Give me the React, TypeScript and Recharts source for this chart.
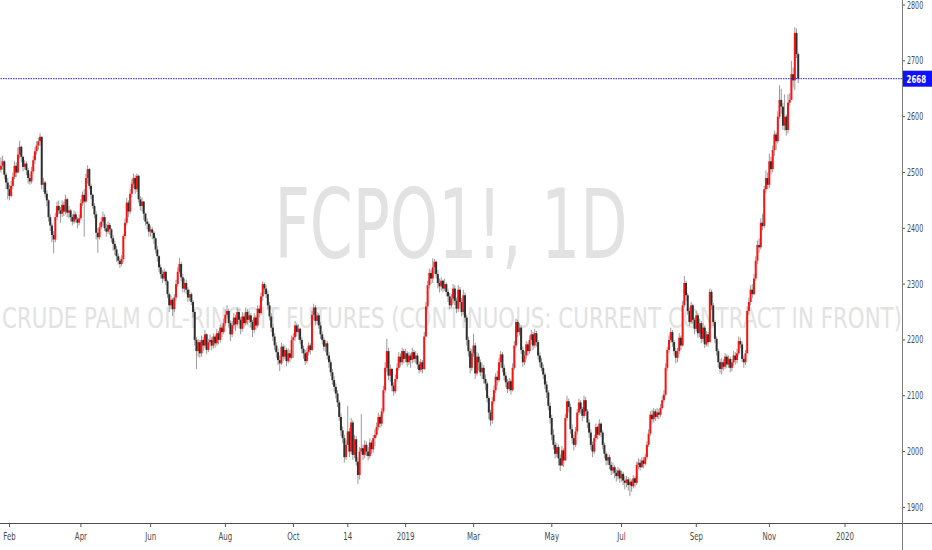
import { ComposedChart, Bar, XAxis, YAxis, ReferenceLine } from 'recharts';

// each candle: [close, high, low]; open is the previous close
type CHL = [number, number, number];

const firstOpen = 2505;

const jan18: CHL[] = [[2512,2527,2500],[2520,2530,2505],[2496,2522,2488],[2482,2500,2470],[2470,2490,2452]];
const feb18: CHL[] = [[2458,2478,2450],[2476,2485,2455],[2492,2500,2470],[2512,2520,2488],[2500,2518,2492],[2532,2545,2498],[2546,2557,2525],[2528,2548,2518],[2510,2530,2502],[2516,2522,2505],[2504,2520,2495],[2490,2508,2480],[2484,2498,2478],[2502,2510,2480],[2522,2530,2498],[2538,2545,2515],[2548,2556,2532],[2556,2562,2540],[2564,2570,2548],[2478,2560,2470]];
const mar18: CHL[] = [[2482,2490,2465],[2462,2485,2455],[2450,2468,2440],[2420,2452,2412],[2405,2425,2395],[2388,2410,2375],[2380,2395,2355],[2420,2428,2375],[2440,2448,2415],[2432,2450,2425],[2426,2438,2410],[2442,2450,2420],[2430,2448,2422],[2452,2460,2425],[2428,2455,2420],[2432,2440,2418],[2420,2435,2412],[2412,2425,2405],[2425,2432,2408],[2416,2430,2410],[2410,2420,2400],[2418,2425,2405]];
const apr18: CHL[] = [[2445,2452,2415],[2460,2466,2440],[2448,2470,2385],[2490,2498,2445],[2506,2513,2480],[2476,2508,2470],[2460,2480,2452],[2440,2462,2435],[2425,2445,2418],[2392,2430,2380],[2384,2400,2356],[2402,2410,2380],[2412,2420,2398],[2420,2430,2405],[2400,2425,2395],[2394,2408,2385],[2406,2412,2390],[2398,2410,2388],[2382,2400,2375],[2372,2388,2360],[2362,2378,2352]];
const may18: CHL[] = [[2350,2368,2340],[2342,2355,2335],[2336,2348,2329],[2345,2352,2332],[2386,2390,2340],[2410,2418,2380],[2446,2455,2405],[2430,2450,2420],[2462,2470,2425],[2480,2488,2455],[2490,2498,2472],[2470,2495,2462],[2494,2498,2465],[2452,2496,2446],[2440,2458,2432],[2448,2455,2430],[2426,2435,2415],[2412,2428,2405],[2408,2418,2398],[2394,2412,2385]];
const jun18: CHL[] = [[2398,2405,2385],[2392,2402,2380],[2382,2395,2372],[2362,2385,2355],[2350,2368,2340],[2330,2352,2322],[2318,2335,2310],[2310,2325,2302],[2322,2328,2305],[2305,2324,2298],[2282,2308,2275],[2262,2285,2250],[2272,2280,2255],[2255,2275,2243],[2276,2282,2250],[2300,2308,2270],[2322,2330,2295],[2336,2347,2318],[2312,2340,2305],[2292,2318,2285],[2302,2310,2285]];
const jul18: CHL[] = [[2290,2308,2282],[2276,2295,2268],[2282,2290,2270],[2268,2285,2262],[2250,2272,2240],[2200,2255,2190],[2180,2205,2148],[2196,2202,2170],[2176,2200,2168],[2200,2208,2170],[2190,2205,2180],[2210,2218,2185],[2182,2212,2175],[2196,2202,2178],[2200,2210,2188],[2190,2205,2182],[2206,2212,2185],[2194,2210,2186],[2212,2220,2190],[2200,2216,2192],[2222,2228,2195],[2214,2226,2205],[2230,2238,2210]];
const aug18: CHL[] = [[2245,2255,2225],[2252,2262,2238],[2230,2256,2222],[2210,2235,2198],[2226,2234,2205],[2240,2248,2220],[2228,2245,2216],[2250,2258,2225],[2236,2255,2228],[2220,2240,2210],[2242,2250,2215],[2230,2248,2222],[2250,2258,2226],[2236,2255,2228],[2244,2252,2230],[2232,2248,2222],[2218,2236,2205],[2240,2248,2212],[2226,2245,2218],[2256,2262,2222],[2248,2262,2240]];
const sep18: CHL[] = [[2278,2285,2245],[2300,2305,2270],[2292,2303,2282],[2282,2298,2275],[2262,2288,2255],[2242,2268,2235],[2222,2248,2214],[2206,2228,2198],[2190,2212,2182],[2178,2196,2168],[2164,2185,2155],[2158,2172,2144],[2188,2195,2155],[2170,2192,2162],[2182,2190,2165],[2162,2186,2153],[2176,2185,2158],[2168,2182,2160],[2200,2208,2165]];
const oct18: CHL[] = [[2205,2212,2168],[2226,2234,2198],[2214,2230,2206],[2220,2228,2200],[2200,2222,2192],[2184,2205,2176],[2176,2190,2166],[2162,2182,2155],[2178,2185,2158],[2190,2196,2172],[2182,2194,2174],[2245,2252,2180],[2258,2265,2235],[2234,2262,2226],[2244,2250,2228],[2226,2248,2220],[2210,2232,2202],[2200,2215,2192],[2188,2205,2180],[2194,2200,2178],[2172,2198,2165],[2160,2178,2150],[2142,2165,2135]];
const nov18: CHL[] = [[2128,2148,2120],[2116,2135,2108],[2104,2122,2095],[2088,2110,2080],[2062,2092,2055],[2038,2068,2028],[2024,2045,2015],[1990,2030,1980],[2012,2020,1985],[2036,2082,2025],[2000,2042,1990],[2052,2060,1995],[1994,2056,1985],[2022,2030,1988],[1982,2028,1975],[1958,1990,1942],[2000,2008,1950],[2006,2067,1995],[1994,2012,1985],[2012,2020,1988],[2000,2018,1992],[1992,2008,1984]];
const dec18: CHL[] = [[2016,2024,1988],[2004,2020,1996],[2024,2030,1998],[2030,2040,2010],[2044,2052,2025],[2062,2070,2038],[2050,2066,2042],[2072,2078,2045],[2110,2118,2068],[2150,2160,2105],[2180,2202,2142],[2136,2186,2128],[2148,2156,2125],[2118,2150,2108],[2108,2124,2100],[2130,2138,2104],[2150,2158,2125],[2170,2178,2145],[2160,2176,2152],[2180,2186,2155],[2166,2184,2158]];
const jan19: CHL[] = [[2176,2184,2160],[2160,2180,2152],[2172,2178,2155],[2164,2176,2150],[2178,2186,2158],[2166,2182,2160],[2172,2180,2158],[2156,2176,2148],[2146,2162,2140],[2160,2166,2142],[2148,2164,2140],[2206,2214,2146],[2260,2268,2205],[2298,2306,2255],[2320,2328,2292],[2310,2326,2300],[2330,2346,2302],[2340,2345,2318],[2318,2342,2310],[2302,2325,2292],[2296,2310,2285]];
const feb19: CHL[] = [[2306,2312,2288],[2292,2308,2285],[2300,2310,2288],[2286,2303,2278],[2278,2292,2268],[2262,2284,2255],[2274,2282,2258],[2292,2300,2265],[2270,2298,2262],[2256,2276,2248],[2290,2298,2250],[2268,2295,2260],[2250,2275,2242],[2280,2290,2245],[2240,2285,2232],[2200,2245,2190],[2180,2206,2170],[2150,2186,2140],[2176,2184,2145]];
const mar19: CHL[] = [[2190,2211,2170],[2140,2195,2130],[2170,2178,2136],[2160,2176,2145],[2142,2165,2135],[2150,2158,2130],[2130,2155,2122],[2122,2138,2110],[2096,2126,2088],[2070,2100,2058],[2056,2075,2046],[2090,2098,2050],[2110,2118,2085],[2134,2140,2105],[2128,2145,2118],[2160,2168,2124],[2174,2180,2150],[2150,2178,2142],[2136,2156,2128],[2124,2142,2115],[2112,2130,2105],[2126,2132,2108]];
const apr19: CHL[] = [[2110,2130,2102],[2150,2158,2108],[2190,2198,2146],[2232,2238,2185],[2214,2236,2205],[2222,2230,2208],[2182,2226,2175],[2160,2188,2152],[2172,2180,2155],[2192,2198,2165],[2180,2196,2172],[2200,2208,2175],[2210,2218,2192],[2190,2214,2182],[2212,2220,2186],[2196,2216,2188],[2172,2200,2165],[2160,2178,2152],[2150,2168,2144],[2138,2156,2130],[2120,2142,2112],[2106,2126,2096],[2082,2110,2074],[2060,2088,2050]];
const may19: CHL[] = [[2030,2066,2020],[2012,2040,2004],[1996,2018,1988],[2008,2015,1990],[1988,2012,1975],[1975,1995,1965],[2002,2010,1980],[1984,2006,1972],[2060,2068,1985],[2090,2100,2055],[2080,2095,2070],[2040,2086,2032],[2024,2048,2014],[2012,2030,2002],[2036,2044,2008],[2070,2076,2030],[2088,2095,2065],[2076,2092,2068],[2064,2080,2055],[2092,2100,2060]];
const jun19: CHL[] = [[2072,2098,2064],[2052,2076,2042],[2034,2058,2025],[2012,2040,2003],[2000,2018,1990],[2024,2030,1995],[2044,2050,2018],[2030,2046,2022],[2050,2058,2028],[2034,2052,2026],[2012,2038,2004],[1996,2016,1988],[1984,2000,1975],[1990,1996,1976],[1976,1994,1968],[1966,1982,1958],[1972,1980,1960],[1962,1976,1952],[1956,1968,1946],[1966,1972,1950]];
const jul19: CHL[] = [[1952,1970,1944],[1960,1966,1946],[1948,1964,1940],[1944,1956,1932],[1950,1956,1936],[1940,1954,1930],[1946,1952,1920],[1938,1950,1928],[1952,1958,1934],[1944,1956,1936],[1976,1982,1940],[1980,1988,1968],[1972,1986,1966],[1984,1990,1970],[1978,1990,1970],[1990,1996,1975],[2012,2018,1986],[2032,2040,2008],[2066,2072,2028],[2058,2075,2050],[2072,2078,2052],[2062,2076,2055],[2070,2078,2058]];
const aug19: CHL[] = [[2066,2076,2058],[2078,2085,2062],[2092,2100,2075],[2102,2110,2088],[2150,2158,2100],[2182,2188,2145],[2200,2208,2176],[2214,2222,2195],[2196,2218,2188],[2180,2200,2172],[2168,2186,2158],[2180,2186,2160],[2204,2212,2175],[2190,2208,2182],[2262,2270,2188],[2302,2315,2258],[2280,2306,2270],[2252,2284,2245],[2232,2258,2225],[2262,2268,2228],[2236,2265,2228],[2220,2240,2210]];
const sep19: CHL[] = [[2244,2252,2215],[2212,2248,2204],[2230,2238,2205],[2202,2234,2194],[2222,2230,2196],[2192,2226,2185],[2210,2216,2188],[2196,2214,2188],[2286,2292,2198],[2262,2290,2254],[2232,2266,2225],[2202,2236,2194],[2180,2206,2172],[2160,2184,2150],[2148,2166,2140],[2160,2168,2138],[2152,2165,2145],[2170,2176,2148],[2156,2174,2150],[2166,2172,2150],[2150,2170,2142]];
const oct19: CHL[] = [[2160,2166,2144],[2172,2180,2154],[2164,2178,2156],[2176,2184,2158],[2198,2206,2172],[2192,2204,2185],[2166,2196,2160],[2160,2172,2150],[2176,2182,2155],[2252,2260,2176],[2268,2276,2245],[2290,2298,2262],[2282,2300,2275],[2310,2318,2280],[2342,2350,2306],[2370,2378,2336],[2366,2382,2356],[2410,2418,2362],[2404,2426,2396],[2470,2476,2400],[2490,2504,2462],[2478,2500,2470]];
const nov19: CHL[] = [[2520,2534,2472],[2506,2528,2496],[2540,2548,2500],[2568,2575,2530],[2556,2572,2540],[2600,2610,2552],[2630,2656,2596],[2618,2650,2605],[2584,2625,2576],[2600,2640,2575],[2576,2604,2566],[2625,2640,2570],[2630,2642,2620],[2676,2700,2660],[2665,2688,2652],[2750,2760,2648],[2712,2758,2705],[2668,2715,2660]];

const months = [jan18, feb18, mar18, apr18, may18, jun18, jul18, aug18, sep18, oct18, nov18, dec18,
  jan19, feb19, mar19, apr19, may19, jun19, jul19, aug19, sep19, oct19, nov19];

// x-axis labels sit at these trading-day positions
const tickIdx = [5, 47, 88, 132, 172, 204, 238, 278, 324, 365, 409, 452, 496.5];
const tickLabels = ['Feb', 'Apr', 'Jun', 'Aug', 'Oct', '14', '2019', 'Mar', 'May', 'Jul', 'Sep', 'Nov', '2020'];
const priceTicks = [1900, 2000, 2100, 2200, 2300, 2400, 2500, 2600, 2700, 2800];
const lastPrice = 2668;

const symbol = 'FCPO1!, 1D';
const description = 'CRUDE PALM OIL-RINGGIT FUTURES (CONTINUOUS: CURRENT CONTRACT IN FRONT)';

const candles = (() => {
  const out: { i: number; o: number; h: number; l: number; c: number }[] = [];
  let prev = firstOpen;
  months.flat().forEach(([c, h, l], i) => {
    out.push({ i, o: prev, h: Math.max(h, prev, c), l: Math.min(l, prev, c), c });
    prev = c;
  });
  return out;
})();

const FONT = "'DejaVu Sans', sans-serif";
const SQUEEZE = 0.64;

function Candle(props: any) {
  const { x, y, width, height, payload } = props;
  if (!payload) return null;
  const { o, h, l, c } = payload;
  const top = Math.min(y, y + height);
  const bot = Math.max(y, y + height);
  const py = (v: number) => top + ((h - v) / (h - l || 1)) * (bot - top);
  const cx = x + width / 2;
  const bTop = py(Math.max(o, c));
  const bBot = py(Math.min(o, c));
  return (
    <g>
      <line x1={cx} x2={cx} y1={top} y2={bot} stroke="#9a9a9a" strokeWidth={1} />
      <rect
        x={cx - 1}
        width={2}
        y={bTop}
        height={Math.max(1.5, bBot - bTop)}
        fill={c >= o ? '#ff1212' : '#2e2e2e'}
      />
    </g>
  );
}

function XTick({ x, y, payload }: any) {
  const label = tickLabels[tickIdx.indexOf(payload.value)];
  return (
    <text
      transform={`translate(${x},${y + 11}) scale(${SQUEEZE},1)`}
      textAnchor="middle"
      fontFamily={FONT}
      fontSize={11}
      fill="#4a4a4a"
    >
      {label}
    </text>
  );
}

function YTick({ x, y, payload }: any) {
  return (
    <text
      transform={`translate(${x},${y + 3.5}) scale(${SQUEEZE},1)`}
      textAnchor="start"
      fontFamily={FONT}
      fontSize={10}
      fill="#4a4a4a"
    >
      {payload.value}
    </text>
  );
}

function PriceTag({ viewBox }: any) {
  if (!viewBox) return null;
  const x = viewBox.x + viewBox.width;
  const y = viewBox.y;
  return (
    <g>
      <rect x={x} y={y - 8} width={30} height={16} fill="#1010ff" />
      <text
        transform={`translate(${x + 4.5},${y + 4}) scale(${SQUEEZE},1)`}
        fontFamily={FONT}
        fontSize={11}
        fontWeight="bold"
        fill="#ffffff"
      >
        {lastPrice}
      </text>
    </g>
  );
}

export default function App() {
  return (
    <div style={{ position: 'absolute', left: 0, top: 0, width: 932, height: 550, background: '#fff', overflow: 'hidden' }}>
      <svg width={932} height={550} style={{ position: 'absolute', left: 0, top: 0 }}>
        <text x={451} y={258} textAnchor="middle" fontFamily={FONT} fontSize={96} fill="#e2e2e2"
          textLength={353} lengthAdjust="spacingAndGlyphs">
          {symbol}
        </text>
        <text x={452} y={328} textAnchor="middle" fontFamily={FONT} fontSize={29} fill="#e2e2e2"
          textLength={900} lengthAdjust="spacingAndGlyphs">
          {description}
        </text>
      </svg>

      <div style={{ position: 'absolute', left: 0, top: 0 }}>
        <ComposedChart width={932} height={550} data={candles} margin={{ top: 0, right: 0, left: 0, bottom: 0 }}>
          <XAxis
            dataKey="i"
            type="number"
            domain={[-0.6, 530]}
            allowDataOverflow
            ticks={tickIdx}
            interval={0}
            height={27}
            axisLine={false}
            tickSize={4}
            tickLine={{ stroke: '#555' }}
            tick={<XTick />}
          />
          <YAxis
            orientation="right"
            domain={[1872, 2809]}
            allowDataOverflow
            ticks={priceTicks}
            interval={0}
            width={30}
            axisLine={false}
            tickSize={3}
            tickMargin={2}
            tickLine={{ stroke: '#555' }}
            tick={<YTick />}
          />
          <Bar
            dataKey={(d: any) => [d.l, d.h]}
            barSize={2}
            shape={<Candle />}
            isAnimationActive={false}
          />
          <ReferenceLine
            y={lastPrice}
            stroke="#2020e0"
            strokeWidth={1}
            strokeDasharray="1.5 1"
            label={<PriceTag />}
          />
        </ComposedChart>
      </div>

      <svg width={932} height={550} style={{ position: 'absolute', left: 0, top: 0, pointerEvents: 'none' }}>
        <line x1={0} x2={932} y1={523.5} y2={523.5} stroke="#4d4d4d" strokeWidth={1} />
        <line x1={902.5} x2={902.5} y1={0} y2={550} stroke="#7a7a7a" strokeWidth={1} />
      </svg>
    </div>
  );
}
